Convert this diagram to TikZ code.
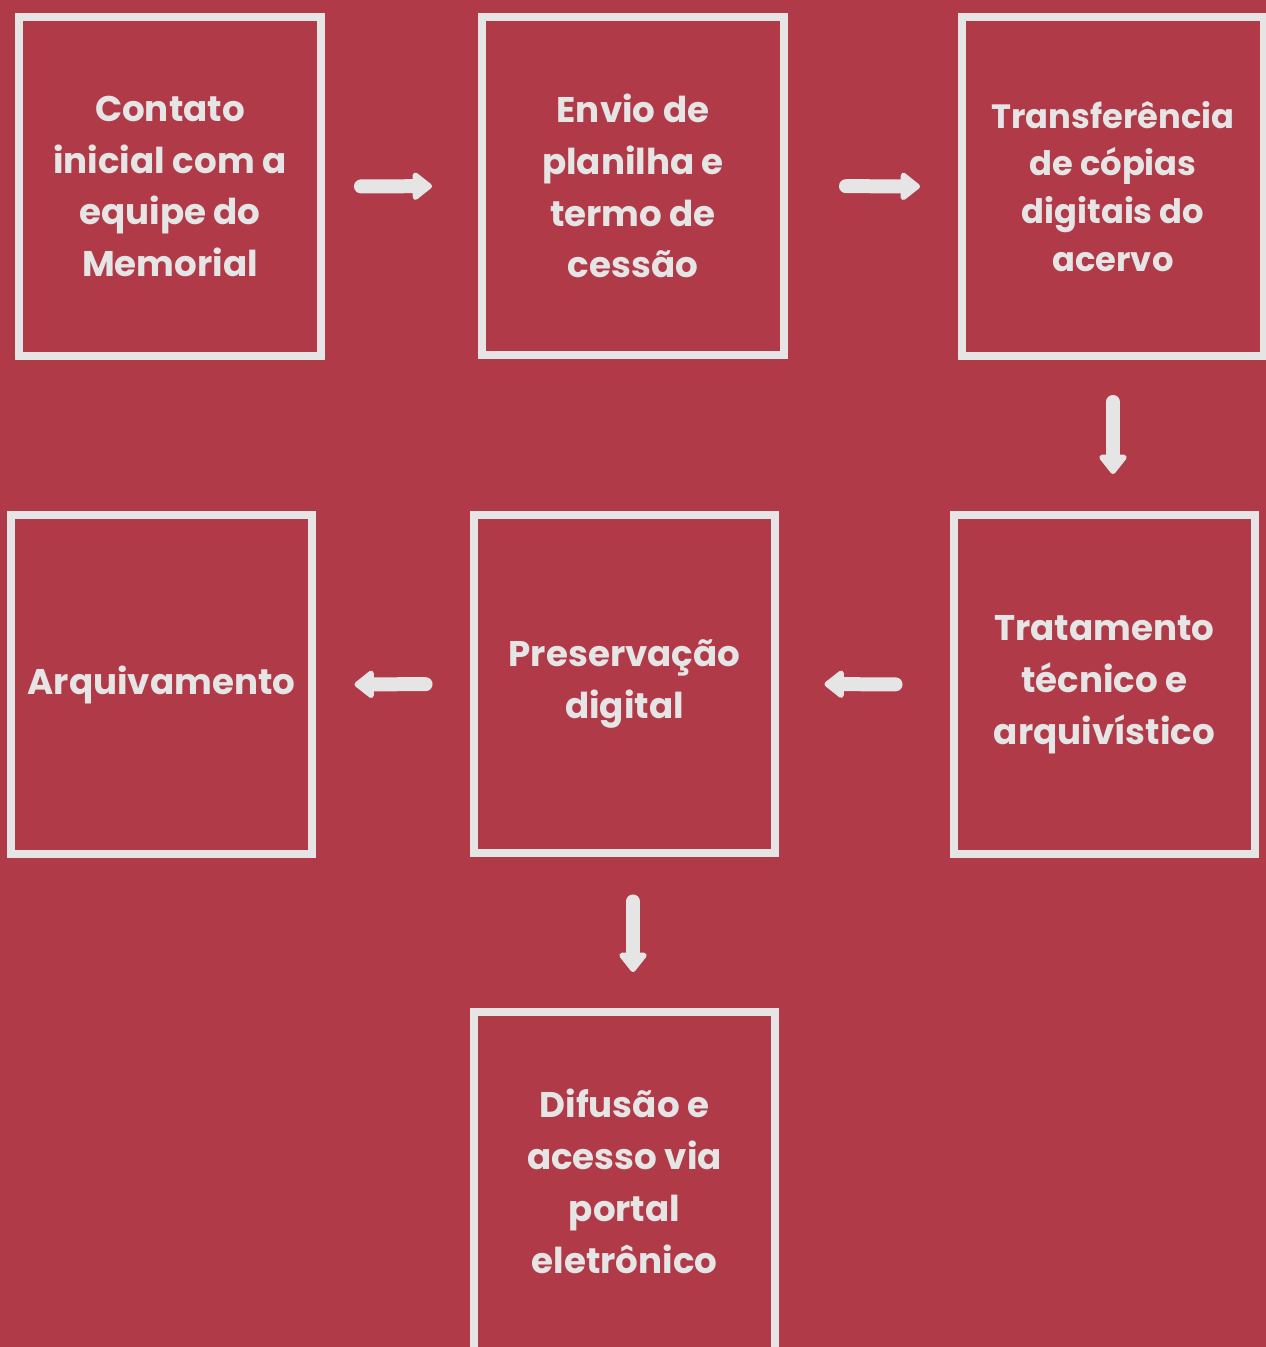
\documentclass[tikz,border=0pt]{standalone}
\usepackage{fontspec}
\setmainfont{Poppins}
\usepackage{xcolor}
\usetikzlibrary{arrows.meta}
\definecolor{fundo}{HTML}{B13A48}
\definecolor{cinza}{HTML}{E5E5E5}
\tikzset{
    x=0.02cm, y=-0.02cm, % one unit is one pixel of the sketch
    etapa/.style={draw=cinza, line width=0.16cm, minimum width=6.04cm,
        minimum height=6.78cm, inner sep=0pt, text=cinza, align=center,
        font=\fontsize{20.3}{29.5}\selectfont\bfseries}, % the white framed boxes
    seta/.style={draw=cinza, line width=0.28cm, line cap=round,
        -{Triangle[width=18pt, length=12pt, round]}}, % the fat block arrows
}

\begin{document}
\begin{tikzpicture}
        \fill[fundo] (0,0) rectangle (1266,1347);
        \useasboundingbox (0,0) rectangle (1266,1347);

        \node[etapa] (contato) at (170,186.5) {Contato\\inicial com a\\equipe do\\Memorial};
        \node[etapa] (envio) at (633,186) {Envio de\\planilha e\\termo de\\cessão};
        \node[etapa, font=\fontsize{19.2}{27.2}\selectfont\bfseries] (transf) at (1113,186.5)
                {Transferência\\de cópias\\digitais do\\acervo};
        \node[etapa] (tratamento) at (1104.5,684.5) {Tratamento\\técnico e\\arquivístico};
        \node[etapa] (preserv) at (624.5,684) {Preservação\\digital};
        \node[etapa] (arquivo) at (161.5,684.5) {Arquivamento};
        \node[etapa] (difusao) at (624.5,1181.5) {Difusão e\\acesso via\\portal\\eletrônico};

        \draw[seta, shorten <=0.72cm, shorten >=0.92cm] (contato.east) -- (envio.west);
        \draw[seta, shorten <=1.16cm, shorten >=0.76cm] (envio.east) -- (transf.west);
        \draw[seta, shorten <=0.84cm, shorten >=0.74cm] (transf.south) -- (transf.south |- tratamento.north);
        \draw[seta, shorten <=1.08cm, shorten >=0.9cm] (tratamento.west) -- (preserv.east);
        \draw[seta, shorten <=0.88cm, shorten >=0.76cm] (preserv.west) -- (arquivo.east);
        \draw[seta, shorten <=0.88cm, shorten >=0.72cm] ([xshift=0.17cm]preserv.south) -- ([xshift=0.17cm]preserv.south |- difusao.north);

\end{tikzpicture}
\end{document}
